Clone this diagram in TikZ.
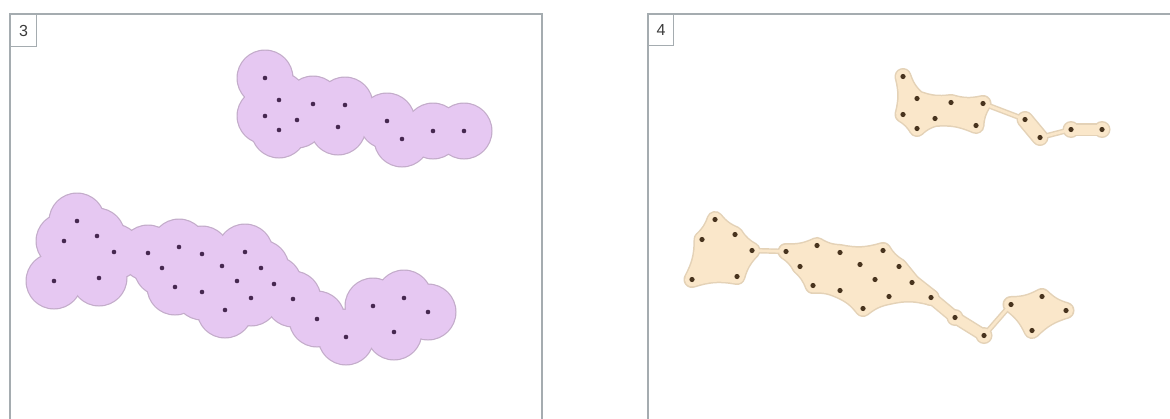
\documentclass[tikz,border=0pt]{standalone}
\usepackage{fontspec}
\setmainfont{Liberation Sans}
\definecolor{framecol}{RGB}{165,172,176}
\definecolor{lavfill}{RGB}{230,200,242}
\definecolor{lavedge}{RGB}{195,172,202}
\definecolor{lavdot}{RGB}{70,40,80}
\definecolor{begfill}{RGB}{250,231,202}
\definecolor{begedge}{RGB}{228,210,183}
\definecolor{begdot}{RGB}{72,52,30}
\definecolor{labtext}{RGB}{60,60,60}
\tikzset{
  frameline/.style={draw=framecol, line width=1.6pt},
  labelbox/.style={draw=framecol, line width=1pt, anchor=north west, inner sep=0pt,
    minimum width=26pt, minimum height=32pt, text=labtext,
    font=\fontsize{16}{16}\selectfont},
  bodyborder/.style={draw=begedge, line width=17pt, line join=round, line cap=round},
  bodyfill/.style={fill=begfill, draw=begfill, line width=14pt, line join=round, line cap=round},
  bandborder/.style={draw=begedge, line width=13pt, line join=round, line cap=round},
  bandfill/.style={draw=begfill, line width=10pt, line join=round, line cap=round},
  neckborder/.style={draw=begedge, line width=5.5pt, line cap=round},
  neckfill/.style={draw=begfill, line width=2.6pt, line cap=round},
  bw/.style={bend right=14}
}
\newcommand\defpts{%
  \coordinate (U1) at (265,78);
  \coordinate (U2) at (279,100);
  \coordinate (U3) at (313,104);
  \coordinate (U4) at (345,105);
  \coordinate (U5) at (265,116);
  \coordinate (U6) at (297,120);
  \coordinate (U7) at (279,130);
  \coordinate (U8) at (338,127);
  \coordinate (U9) at (387,121);
  \coordinate (U10) at (402,139);
  \coordinate (U11) at (433,131);
  \coordinate (U12) at (464,131);
  \coordinate (L1) at (77,221);
  \coordinate (L2) at (64,241);
  \coordinate (L3) at (97,236);
  \coordinate (L4) at (114,252);
  \coordinate (L5) at (54,281);
  \coordinate (L6) at (99,278);
  \coordinate (L7) at (148,253);
  \coordinate (L8) at (179,247);
  \coordinate (L9) at (202,254);
  \coordinate (L10) at (162,268);
  \coordinate (L11) at (245,252);
  \coordinate (L12) at (222,266);
  \coordinate (L13) at (261,268);
  \coordinate (L14) at (237,281);
  \coordinate (L15) at (175,287);
  \coordinate (L16) at (202,292);
  \coordinate (L17) at (251,298);
  \coordinate (L18) at (225,310);
  \coordinate (L19) at (274,284);
  \coordinate (L20) at (293,299);
  \coordinate (L21) at (317,319);
  \coordinate (L22) at (346,337);
  \coordinate (L23) at (373,306);
  \coordinate (L24) at (404,298);
  \coordinate (L25) at (428,312);
  \coordinate (L26) at (394,332);
}
% buffered bodies (edges bowed slightly inwards)
\newcommand\bodyA{(U1) to[bw] (U2) to[bw] (U3) to[bw] (U4) to[bw] (U8) to[bw] (U6) to[bw] (U7) to[bw] (U5) to[bw] (U1) -- cycle}
\newcommand\bodyB{(U9)--(U10)}
\newcommand\bodyC{(L1) to[bw] (L3) to[bw] (L4) to[bw] (L6) to[bw] (L5) to[bw] (L2) to[bw] (L1) -- cycle}
\newcommand\bodyD{(L7) to[bw] (L8) to[bw] (L9) to[bw] (L11) to[bw] (L13) -- (L19) -- (L20) to[bw] (L17) to[bw] (L18) to[bw] (L16) to[bw] (L15) to[bw] (L10) to[bw] (L7) -- cycle}
\newcommand\bodyE{(L23) to[bw] (L24) to[bw] (L25) to[bw] (L26) to[bw] (L23) -- cycle}
\newcommand\bandF{(L19)--(L20)--(L21)--(L22)}
\newcommand\bandG{(U11)--(U12)}
% thin necks
\newcommand\necks{(U4)--(U9) (U10)--(U11) (L4)--(L7) (L22)--(L23)}
\begin{document}
\begin{tikzpicture}[x=1pt,y=-1pt]
\useasboundingbox (0,0) rectangle (1170,418);
\fill[white] (0,0) rectangle (1170,418);

% ---------- panel 3 : buffers ----------
\begin{scope}
  \defpts
  \foreach \i in {1,...,12} {\fill[lavedge] (U\i) circle[radius=28.5];}
  \foreach \i in {1,...,26} {\fill[lavedge] (L\i) circle[radius=28.5];}
  \foreach \i in {1,...,12} {\fill[lavfill] (U\i) circle[radius=27.3];}
  \foreach \i in {1,...,26} {\fill[lavfill] (L\i) circle[radius=27.3];}
  \foreach \i in {1,...,12} {\fill[lavdot] (U\i) circle[radius=2.3];}
  \foreach \i in {1,...,26} {\fill[lavdot] (L\i) circle[radius=2.3];}
\end{scope}

% ---------- panel 4 : concave hulls ----------
\begin{scope}[shift={(638,-1.5)}]
  \defpts
  % border layer
  \draw[neckborder] \necks;
  \draw[bodyborder] \bodyA;
  \draw[bodyborder] \bodyB;
  \draw[bodyborder] \bodyC;
  \draw[bodyborder] \bodyD;
  \draw[bodyborder] \bodyE;
  \draw[bandborder] \bandF;
  \draw[bandborder] \bandG;
  \foreach \p in {U11,U12,L19,L20,L21,L22} {\fill[begedge] (\p) circle[radius=8.5];}
  % fill layer
  \draw[neckfill] \necks;
  \filldraw[bodyfill] \bodyA;
  \filldraw[bodyfill] \bodyB;
  \filldraw[bodyfill] \bodyC;
  \filldraw[bodyfill] \bodyD;
  \filldraw[bodyfill] \bodyE;
  \draw[bandfill] \bandF;
  \draw[bandfill] \bandG;
  \foreach \p in {U11,U12,L19,L20,L21,L22} {\fill[begfill] (\p) circle[radius=7];}
  % points
  \foreach \i in {1,...,12} {\fill[begdot] (U\i) circle[radius=2.6];}
  \foreach \i in {1,...,26} {\fill[begdot] (L\i) circle[radius=2.6];}
\end{scope}

% ---------- frames and labels ----------
\coordinate (f3bl) at (10,430);
\coordinate (f3tl) at (10,14);
\coordinate (f3tr) at (542,14);
\coordinate (f3br) at (542,430);
\draw[frameline] (f3bl) -- (f3tl) -- (f3tr) -- (f3br);
\coordinate (f4bl) at (648,430);
\coordinate (f4tl) at (648,14);
\coordinate (f4tr) at (1180,14);
\draw[frameline] (f4bl) -- (f4tl) -- (f4tr);
\node[labelbox] (lab3) at (10,14) {3};
\node[labelbox, minimum width=25pt, minimum height=31pt] (lab4) at (648,14) {4};
\end{tikzpicture}
\end{document}
